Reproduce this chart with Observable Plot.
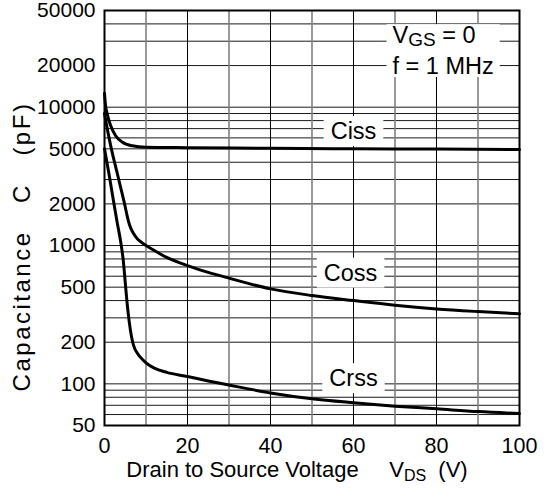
<!DOCTYPE html>
<html><head><meta charset="utf-8">
<script src="https://cdn.jsdelivr.net/npm/d3@7"></script>
<script src="https://cdn.jsdelivr.net/npm/@observablehq/plot@0.6"></script>
<style>body{margin:0;background:#fff}</style>
</head><body><div id="chart"></div>
<script>
// Tick labels and grid positions
const xTicks = [0, 20, 40, 60, 80, 100];
const yTicks = [50, 100, 200, 500, 1000, 2000, 5000, 10000, 20000, 50000];
const xGridMajor = [0, 20, 40, 60, 80, 100];
const xGridMinor = [10, 30, 50, 70, 90];
const yGrid = [50, 60, 70, 80, 90, 100, 200, 300, 400, 500, 600, 700, 800, 900, 1000,
  2000, 3000, 4000, 5000, 6000, 7000, 8000, 9000, 10000, 20000, 30000, 40000, 50000];

// Series (VDS in V, capacitance in pF)
const cissV = [0, 0.25, 0.65, 1.45, 2.65, 4.25, 6.7, 10, 20, 40, 60, 80, 100];
const cissC = [12600, 10300, 8950, 7400, 6250, 5600, 5260, 5140, 5100, 5050, 5000, 4980, 4950];
const cossV = [0, 1, 2, 3, 4, 5, 5.5, 6, 7, 8, 9, 10, 12, 15, 20, 25, 30, 40, 50, 60, 70, 80, 90, 100];
const cossC = [9000, 6200, 4500, 3400, 2550, 1900, 1620, 1420, 1220, 1110, 1050, 1000, 920, 820, 716, 640, 581, 486, 435, 400, 370, 348, 333, 321];
const crssV = [0, 1, 2, 3, 4, 4.5, 5, 5.5, 6, 6.5, 7, 8, 9, 10, 12, 15, 20, 25, 30, 40, 50, 60, 70, 80, 90, 100];
const crssC = [5000, 3400, 2250, 1500, 1020, 790, 540, 370, 275, 220, 190, 165, 152, 142, 130, 121, 113, 105, 98, 86, 78, 73, 69, 66, 63, 61];

// Annotations
const seriesLabels = [
  {text: "Ciss", v: 60, c: 6670},
  {text: "Coss", v: 59.3, c: 632},
  {text: "Crss", v: 60, c: 109}
];
const conditions = [
  {text: "VGS = 0", v: 69.4, c: 32900},
  {text: "f = 1 MHz", v: 69.4, c: 19700}
];
const yTitle = "Capacitance\u00a0\u00a0\u00a0C\u00a0\u00a0\u00a0(pF)";
const xTitle = "Drain to Source Voltage\u00a0\u00a0\u00a0\u00a0VDS\u00a0\u00a0(V)";

const series = [
  ...cissV.map((v, i) => ({name: "Ciss", v, c: cissC[i]})),
  ...cossV.map((v, i) => ({name: "Coss", v, c: cossC[i]})),
  ...crssV.map((v, i) => ({name: "Crss", v, c: crssC[i]}))
];

const plot = Plot.plot({
  width: 556,
  height: 498,
  marginLeft: 104,
  marginRight: 37,
  marginTop: 10,
  marginBottom: 73,
  style: {fontFamily: "'Liberation Sans', Arial, Helvetica, sans-serif", fontSize: "22px", color: "black", background: "white"},
  x: {domain: [0, 100]},
  y: {type: "log", domain: [50, 50000], axis: null},
  marks: [
    Plot.ruleY(yGrid, {stroke: "#1a1a1a", strokeWidth: 1}),
    Plot.ruleX(xGridMinor, {stroke: "#808080", strokeWidth: 1.6}),
    Plot.ruleX(xGridMajor, {stroke: "#000", strokeWidth: 1}),
    Plot.axisX({ticks: xTicks, tickSize: 0, tickPadding: 12, label: null, fill: "black", fontSize: 21.5}),
    Plot.text(yTicks, {y: d => d, text: d => String(d), frameAnchor: "left", dx: -9, textAnchor: "end", fontSize: 21, fill: "black"}),
    Plot.text(seriesLabels, {x: "v", y: "c", text: "text", fontSize: 23.5, fill: "black"}),
    Plot.text(conditions, {x: "v", y: "c", text: "text", fontSize: 23.5, textAnchor: "start", fill: "black"}),
    Plot.line(series, {x: "v", y: "c", z: "name", stroke: "black", strokeWidth: 3, curve: "monotone-x"}),
    Plot.frame({stroke: "black", strokeWidth: 2}),
    Plot.text([yTitle], {text: d => d, frameAnchor: "left", rotate: -90, dx: -82, dy: 28.5, textAnchor: "middle", fill: "black", fontSize: 24}),
    Plot.text([xTitle], {text: d => d, frameAnchor: "bottom", dx: -15, dy: 51, textAnchor: "middle", fill: "black", fontSize: 22})
  ]
});
document.getElementById("chart").appendChild(plot);

const svgNS = "http://www.w3.org/2000/svg";
function rich(el, parts) {
  el.textContent = "";
  for (const [s, shift, size] of parts) {
    const t = document.createElementNS(svgNS, "tspan");
    t.textContent = s;
    if (shift) t.setAttribute("dy", shift);
    if (size) t.setAttribute("font-size", size);
    el.appendChild(t);
  }
}
const texts = Array.from(plot.querySelectorAll("text"));
const find = s => texts.find(t => t.textContent === s);
const vgs = find("VGS = 0");
rich(vgs, [["V"], ["GS", 3, "19px"], [" = 0", -3]]);
const xt = find(xTitle);
rich(xt, [["Drain to Source Voltage\u00a0\u00a0\u00a0\u00a0\u00a0V"], ["DS", 4, "16px"], ["\u00a0\u00a0(V)", -4]]);
const yt = find(yTitle);
yt.setAttribute("letter-spacing", "2.5");

// white boxes behind annotations
const sr = plot.getBoundingClientRect();
function box(els, px, py) {
  const rs = els.map(e => e.getBoundingClientRect());
  const x0 = Math.min(...rs.map(r => r.left)) - sr.left - px;
  const x1 = Math.max(...rs.map(r => r.right)) - sr.left + px;
  const y0 = Math.min(...rs.map(r => r.top)) - sr.top - py;
  const y1 = Math.max(...rs.map(r => r.bottom)) - sr.top + py;
  const rect = document.createElementNS(svgNS, "rect");
  rect.setAttribute("x", x0); rect.setAttribute("y", y0);
  rect.setAttribute("width", x1 - x0); rect.setAttribute("height", y1 - y0);
  rect.setAttribute("fill", "white");
  const g = els[0].parentNode;
  g.parentNode.insertBefore(rect, g);
}
for (const l of seriesLabels) box([find(l.text)], 7, 2);
box([vgs, find("f = 1 MHz")], 6, -2);
</script>
</body></html>
